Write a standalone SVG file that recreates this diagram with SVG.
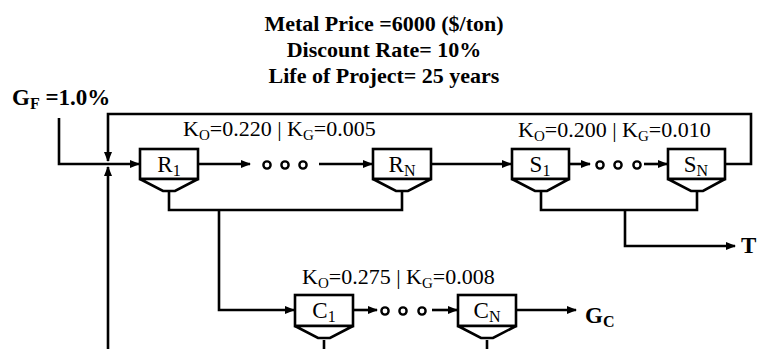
<svg xmlns="http://www.w3.org/2000/svg" width="758" height="349" viewBox="0 0 758 349" font-family="Liberation Serif, Times New Roman, serif">
<style>
.ln{fill:none;stroke:#000;stroke-width:2.6;stroke-linejoin:miter}
.box{fill:#fff;stroke:#000;stroke-width:2.6}
.dot{fill:#fff;stroke:#000;stroke-width:2.4}
text{fill:#000}
.title{font-size:22px;font-weight:bold}
.k{font-size:22px}
.bl{font-size:23px}
.g{font-size:23px;font-weight:bold}
</style>
<defs>
<marker id="ah" markerWidth="10" markerHeight="8" refX="9" refY="4" orient="auto" markerUnits="userSpaceOnUse">
<path d="M0,0 L10,4 L0,8 Z" fill="#000"/>
</marker>
</defs>
<rect width="758" height="349" fill="#fff"/>
<g id="title" text-anchor="middle">
<text class="title" x="384" y="31">Metal Price =6000 ($/ton)</text>
<text class="title" x="384" y="57">Discount Rate= 10%</text>
<text class="title" x="384" y="83">Life of Project= 25 years</text>
</g>
<g id="labels">
<text class="g" x="12" y="105">G<tspan font-size="16" dy="4">F</tspan><tspan dy="-4"> =1.0%</tspan></text>
<text class="k" x="183" y="136">K<tspan font-size="15" dy="4">O</tspan><tspan dy="-4">=0.220 | K</tspan><tspan font-size="15" dy="4">G</tspan><tspan dy="-4">=0.005</tspan></text>
<text class="k" x="518" y="137">K<tspan font-size="15" dy="4">O</tspan><tspan dy="-4">=0.200 | K</tspan><tspan font-size="15" dy="4">G</tspan><tspan dy="-4">=0.010</tspan></text>
<text class="k" x="302" y="284">K<tspan font-size="15" dy="4">O</tspan><tspan dy="-4">=0.275 | K</tspan><tspan font-size="15" dy="4">G</tspan><tspan dy="-4">=0.008</tspan></text>
<text class="g" x="585" y="323">G<tspan font-size="16" dy="4">C</tspan></text>
<text class="g" x="741" y="253">T</text>
</g>
<g id="connectors">
<polyline class="ln" points="725,164 751,164 751,114 108,114 108,161" marker-end="url(#ah)"/>
<polyline class="ln" points="59,118 59,164 139,164" marker-end="url(#ah)"/>
<polyline class="ln" points="108,349 108,167" marker-end="url(#ah)"/>
<line class="ln" x1="198" y1="164" x2="250" y2="164" marker-end="url(#ah)"/>
<line class="ln" x1="319" y1="164" x2="372" y2="164" marker-end="url(#ah)"/>
<line class="ln" x1="431" y1="164" x2="511" y2="164" marker-end="url(#ah)"/>
<line class="ln" x1="569" y1="164" x2="590" y2="164" marker-end="url(#ah)"/>
<line class="ln" x1="644" y1="164" x2="667" y2="164" marker-end="url(#ah)"/>
<polyline class="ln" points="169,191 169,210 402,210 402,191"/>
<polyline class="ln" points="219,210 219,310 294,310" marker-end="url(#ah)"/>
<polyline class="ln" points="541,191 541,210 697,210 697,191"/>
<polyline class="ln" points="625,210 625,246 735,246" marker-end="url(#ah)"/>
<line class="ln" x1="353" y1="310" x2="377" y2="310" marker-end="url(#ah)"/>
<line class="ln" x1="432" y1="310" x2="457" y2="310" marker-end="url(#ah)"/>
<line class="ln" x1="516" y1="310" x2="576" y2="310" marker-end="url(#ah)"/>
<line class="ln" x1="324" y1="340" x2="324" y2="349"/>
<line class="ln" x1="487" y1="340" x2="487" y2="349"/>
</g>
<g id="dots">
<circle class="dot" cx="267" cy="165" r="3.6"/>
<circle class="dot" cx="285" cy="165" r="3.6"/>
<circle class="dot" cx="303" cy="165" r="3.6"/>
<circle class="dot" cx="600" cy="165" r="3.6"/>
<circle class="dot" cx="618" cy="165" r="3.6"/>
<circle class="dot" cx="637" cy="165" r="3.6"/>
<circle class="dot" cx="385" cy="311" r="3.6"/>
<circle class="dot" cx="403" cy="311" r="3.6"/>
<circle class="dot" cx="422" cy="311" r="3.6"/>
</g>
<g id="R1">
<rect class="box" x="140" y="149" width="58" height="30"/>
<polygon class="box" points="140,179 198,179 175,191 163,191"/>
<text class="bl" x="169" y="172" text-anchor="middle">R<tspan font-size="16" dy="4">1</tspan></text>
</g>
<g id="RN">
<rect class="box" x="373" y="149" width="58" height="30"/>
<polygon class="box" points="373,179 431,179 408,191 396,191"/>
<text class="bl" x="402" y="172" text-anchor="middle">R<tspan font-size="16" dy="4">N</tspan></text>
</g>
<g id="S1">
<rect class="box" x="512" y="149" width="57" height="30"/>
<polygon class="box" points="512,179 569,179 547,191 535,191"/>
<text class="bl" x="540" y="172" text-anchor="middle">S<tspan font-size="16" dy="4">1</tspan></text>
</g>
<g id="SN">
<rect class="box" x="668" y="149" width="57" height="30"/>
<polygon class="box" points="668,179 725,179 703,191 691,191"/>
<text class="bl" x="696" y="172" text-anchor="middle">S<tspan font-size="16" dy="4">N</tspan></text>
</g>
<g id="C1">
<rect class="box" x="295" y="295" width="58" height="31"/>
<polygon class="box" points="295,326 353,326 330,338 318,338"/>
<text class="bl" x="324" y="318" text-anchor="middle">C<tspan font-size="16" dy="4">1</tspan></text>
</g>
<g id="CN">
<rect class="box" x="458" y="295" width="58" height="31"/>
<polygon class="box" points="458,326 516,326 493,338 481,338"/>
<text class="bl" x="487" y="318" text-anchor="middle">C<tspan font-size="16" dy="4">N</tspan></text>
</g>
</svg>
